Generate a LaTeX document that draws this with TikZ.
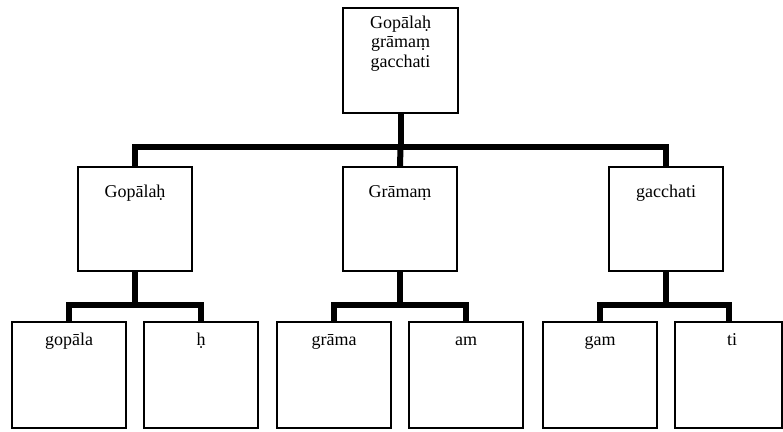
\documentclass[tikz,border=0pt]{standalone}
\usepackage{fontspec}
\setmainfont{Liberation Serif}
\newcommand\cellbox[4]{\parbox[c][#2pt][t]{#1pt}{\fontsize{18}{19.5}\selectfont\centering\rule{0pt}{#3pt}#4}}
\begin{document}
\begin{tikzpicture}[x=1pt,y=-1pt,
  box/.style={draw, line width=1.2pt, inner sep=0pt, rectangle},
  conn/.style={line width=6pt, line join=miter, line cap=butt}]
\useasboundingbox (0,0) rectangle (783,431);
% top
\node[box] (top) at (400.5,60.5) {\cellbox{115}{105}{20}{Gopālaḥ\\grāmaṃ\\gacchati}};
% level 2
\node[box] (g1) at (135,219) {\cellbox{114}{104}{30}{Gopālaḥ}};
\node[box] (g2) at (400,219) {\cellbox{114}{104}{30}{Grāmaṃ}};
\node[box] (g3) at (666,219) {\cellbox{114}{104}{30}{gacchati}};
% level 3
\node[box] (a1) at (69,375) {\cellbox{114}{106}{23}{gopāla}};
\node[box] (a2) at (201,375) {\cellbox{114}{106}{23}{ḥ}};
\node[box] (b1) at (334,375) {\cellbox{114}{106}{23}{grāma}};
\node[box] (b2) at (466,375) {\cellbox{114}{106}{23}{am}};
\node[box] (c1) at (600,375) {\cellbox{114}{106}{23}{gam}};
\node[box] (c2) at (728.5,375) {\cellbox{107}{106}{23}{\hspace*{7pt}ti}};
% junctions
\coordinate (j0) at (400.5,147);
\coordinate (ja) at (135,305);
\coordinate (jb) at (400,305);
\coordinate (jc) at (666,305);
% connectors
\draw[conn] (top.south) -- (j0);
\draw[conn] (g1.north) |- (j0) -| (g3.north);
\draw[conn] (j0) -- (g2.north);
\draw[conn] (g1.south) -- (ja);
\draw[conn] (a1.north) |- (ja) -| (a2.north);
\draw[conn] (g2.south) -- (jb);
\draw[conn] (b1.north) |- (jb) -| (b2.north);
\draw[conn] (g3.south) -- (jc);
\draw[conn] (c1.north) |- (jc) -| (c2.north);
\end{tikzpicture}
\end{document}
